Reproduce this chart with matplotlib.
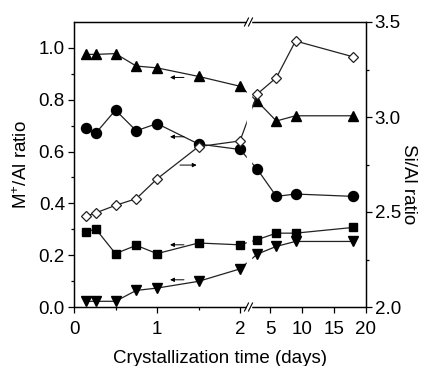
import numpy as np
import matplotlib
matplotlib.use('Agg')
import matplotlib.pyplot as plt
from matplotlib.ticker import FixedLocator, FormatStrFormatter

plt.rcParams['font.family'] = ['Liberation Sans', 'DejaVu Sans']
plt.rcParams['mathtext.default'] = 'regular'

# crystallization time (days)
days = [0.14, 0.26, 0.5, 0.75, 1.0, 1.5, 2.0, 3.0, 6.0, 9.0, 18.0]
# M+/Al ratios (left axis)
ratio_up = [0.975, 0.975, 0.978, 0.93, 0.923, 0.89, 0.852, 0.794, 0.718, 0.738, 0.738]
ratio_circle = [0.692, 0.670, 0.760, 0.680, 0.708, 0.629, 0.608, 0.532, 0.427, 0.436, 0.427]
ratio_square = [0.288, 0.302, 0.206, 0.238, 0.206, 0.247, 0.240, 0.260, 0.285, 0.285, 0.307]
ratio_down = [0.022, 0.022, 0.022, 0.064, 0.073, 0.099, 0.147, 0.204, 0.234, 0.253, 0.253]
# Si/Al ratio (right axis)
si_al = [2.477, 2.495, 2.535, 2.570, 2.674, 2.844, 2.874, 3.121, 3.207, 3.40, 3.317]

xticks = [0, 1, 2, 5, 10, 15, 20]
xtick_labels = ['0', '1', '2', '5', '10', '15', '20']


# broken x axis: 0-2.1 linear, then 5-20 on a compressed scale
def fwd(x):
    x = np.asarray(x, float)
    return np.where(x <= 2.1, 74 + 83 * x,
                    np.where(x < 3, 248.3 + (x - 2.1) * (257.24 - 248.3) / 0.9,
                             270 + 6.38 * (x - 5)))


def inv(u):
    u = np.asarray(u, float)
    return np.where(u <= 248.3, (u - 74) / 83,
                    np.where(u < 257.24, 2.1 + (u - 248.3) * 0.9 / (257.24 - 248.3),
                             5 + (u - 270) / 6.38))


fig = plt.figure(figsize=(4.23, 3.66), dpi=100)
ax = fig.add_axes([74 / 423, 1 - 307 / 366, 291.7 / 423, 285 / 366])
ax.set_xscale('function', functions=(fwd, inv))
ax2 = ax.twinx()

lc = '#222222'
lw = 0.9
for ys, mk, ms in [(ratio_up, '^', 7.5), (ratio_circle, 'o', 7.2),
                   (ratio_square, 's', 6.0), (ratio_down, 'v', 7.5)]:
    ax.plot(days, ys, '-', color=lc, lw=lw, zorder=2)
    ax.plot(days, ys, mk, color='black', ms=ms, zorder=3)

ax2.plot(days, si_al, '-', color=lc, lw=lw, zorder=2)
ax2.plot(days, si_al, 'D', mfc='white', mec='#222222', mew=0.9, ms=5.6, zorder=3)

# white gap over the lines at the break
ax2.axvspan(float(inv(246.6)), float(inv(251.4)), ymin=-0.012, ymax=1.012,
            color='white', zorder=2.6, clip_on=False)
for u in (246.5, 250.5):
    fx = (u - 74) / 291.7
    for y0 in (0, 1):
        ax2.plot([fx - 2 / 291.7, fx + 2 / 291.7], [y0 - 4 / 285, y0 + 4 / 285],
                 color='black', lw=0.8, transform=ax2.transAxes,
                 clip_on=False, zorder=5)

# arrows pointing to the axis of each series
arr = dict(arrowstyle='-|>', color='black', lw=0.7, mutation_scale=6,
           shrinkA=0, shrinkB=0)
for y in (0.886, 0.657, 0.240, 0.105):
    ax.annotate('', xy=(1.157, y), xytext=(1.325, y), arrowprops=arr)
ax2.annotate('', xy=(1.478, 2.747), xytext=(1.277, 2.747), arrowprops=arr)

ax.set_xlim(0, 20)
ax.set_ylim(0, 1.1)
ax2.set_ylim(2.0, 3.5)

ax.xaxis.set_major_locator(FixedLocator(xticks))
ax.set_xticklabels(xtick_labels)
ax.xaxis.set_minor_locator(FixedLocator([0.5, 1.5]))
ax.set_yticks(np.arange(0, 1.01, 0.2))
ax.yaxis.set_minor_locator(FixedLocator(np.arange(0.1, 1.1, 0.2)))
ax.yaxis.set_major_formatter(FormatStrFormatter('%.1f'))
ax2.set_yticks([2.0, 2.5, 3.0, 3.5])
ax2.yaxis.set_minor_locator(FixedLocator([2.25, 2.75, 3.25]))
ax2.yaxis.set_major_formatter(FormatStrFormatter('%.1f'))

for a in (ax, ax2):
    a.tick_params(which='major', direction='out', length=4.5, width=0.9,
                  labelsize=13.5, pad=2)
    a.tick_params(which='minor', direction='out', length=2.5, width=0.9)
    for s in a.spines.values():
        s.set_linewidth(0.9)
ax.tick_params(axis='x', which='both', top=False)
ax.tick_params(axis='x', which='major', pad=5.5)

ax.set_xlabel('Crystallization time (days)', fontsize=13.5, labelpad=8.5)
ax.set_ylabel('M$^{+}$/Al ratio', fontsize=13.5, labelpad=5.5)
ax2.set_ylabel('Si/Al ratio', fontsize=13.5, rotation=270, labelpad=11.5)
ax2.yaxis.label.set_y(0.43)

fig.savefig('out.png', dpi=100)
